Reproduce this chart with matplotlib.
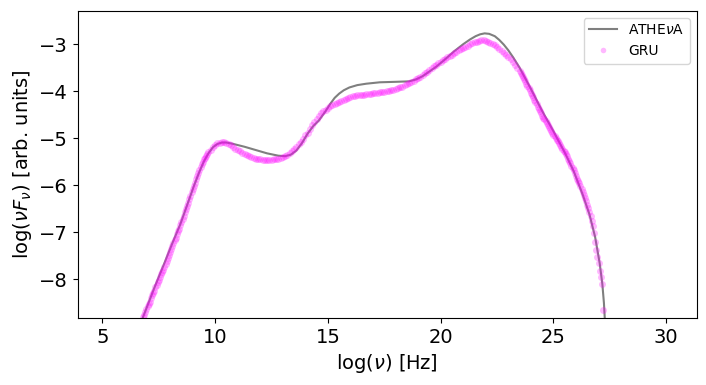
import matplotlib as mpl
mpl.use('Agg')
import matplotlib.pyplot as plt

# ATHEvA model curve
athena_x = [6.5, 6.8, 7.3, 7.7, 8.1, 8.45, 8.8, 9.05, 9.3, 9.5, 9.7, 9.9,
            10.1, 10.3, 10.5, 10.8, 11.3, 11.8, 12.3, 12.8, 13.1, 13.35,
            13.6, 13.85, 14.1, 14.35, 14.6, 14.9, 15.1, 15.3, 15.5, 15.7,
            15.95, 16.3, 16.7, 17.3, 18.0, 18.6, 18.9, 19.2, 19.5, 19.8,
            20.2, 20.6, 21.0, 21.3, 21.55, 21.75, 21.95, 22.15, 22.4, 22.6,
            22.8, 23.0, 23.2, 23.5, 24.0, 24.5, 25.0, 25.5, 25.9, 26.3,
            26.6, 26.85, 27.05, 27.17, 27.24, 27.28, 27.3]
athena_y = [-9.15, -8.80, -8.18, -7.71, -7.23, -6.83, -6.36, -6.02, -5.71,
            -5.49, -5.32, -5.19, -5.12, -5.09, -5.09, -5.12, -5.18, -5.25,
            -5.32, -5.37, -5.38, -5.35, -5.26, -5.10, -4.90, -4.74, -4.62,
            -4.42, -4.27, -4.14, -4.05, -3.98, -3.92, -3.87, -3.84, -3.81,
            -3.80, -3.79, -3.75, -3.68, -3.58, -3.48, -3.32, -3.15, -3.00,
            -2.90, -2.83, -2.79, -2.77, -2.78, -2.83, -2.91, -3.01, -3.13,
            -3.27, -3.50, -3.95, -4.42, -4.85, -5.30, -5.70, -6.20, -6.62,
            -7.10, -7.65, -8.10, -8.50, -8.85, -10.0]

# GRU prediction points
gru_x = [6.8, 6.9, 7.0, 7.1, 7.2, 7.3, 7.4, 7.5, 7.6, 7.7,
         7.8, 7.9, 8.0, 8.1, 8.2, 8.3, 8.4, 8.5, 8.6, 8.7,
         8.8, 8.9, 9.0, 9.1, 9.2, 9.3, 9.4, 9.5, 9.6, 9.7,
         9.8, 9.9, 10.0, 10.1, 10.2, 10.3, 10.4, 10.5, 10.6, 10.7,
         10.8, 10.9, 11.0, 11.1, 11.2, 11.3, 11.4, 11.5, 11.6, 11.7,
         11.8, 11.9, 12.0, 12.1, 12.2, 12.3, 12.4, 12.5, 12.6, 12.7,
         12.8, 12.9, 13.0, 13.1, 13.2, 13.3, 13.4, 13.5, 13.6, 13.7,
         13.8, 13.9, 14.0, 14.1, 14.2, 14.3, 14.4, 14.5, 14.6, 14.7,
         14.8, 14.9, 15.0, 15.1, 15.2, 15.3, 15.4, 15.5, 15.6, 15.7,
         15.8, 15.9, 16.0, 16.1, 16.2, 16.3, 16.4, 16.5, 16.6, 16.7,
         16.8, 16.9, 17.0, 17.1, 17.2, 17.3, 17.4, 17.5, 17.6, 17.7,
         17.8, 17.9, 18.0, 18.1, 18.2, 18.3, 18.4, 18.5, 18.6, 18.7,
         18.8, 18.9, 19.0, 19.1, 19.2, 19.3, 19.4, 19.5, 19.6, 19.7,
         19.8, 19.9, 20.0, 20.1, 20.2, 20.3, 20.4, 20.5, 20.6, 20.7,
         20.8, 20.9, 21.0, 21.1, 21.2, 21.3, 21.4, 21.5, 21.6, 21.7,
         21.8, 21.9, 22.0, 22.1, 22.2, 22.3, 22.4, 22.5, 22.6, 22.7,
         22.8, 22.9, 23.0, 23.1, 23.2, 23.3, 23.4, 23.5, 23.6, 23.7,
         23.8, 23.9, 24.0, 24.1, 24.2, 24.3, 24.4, 24.5, 24.6, 24.7,
         24.8, 24.9, 25.0, 25.1, 25.2, 25.3, 25.4, 25.5, 25.6, 25.7,
         25.8, 25.9, 26.0, 26.1, 26.2, 26.3, 26.4, 26.5, 26.6, 26.7,
         26.8, 26.9, 27.0, 27.1, 27.2]
gru_y = [-8.80, -8.69, -8.57, -8.47, -8.34, -8.24, -8.11, -8.02, -7.89, -7.79,
         -7.67, -7.55, -7.42, -7.30, -7.17, -7.04, -6.92, -6.78, -6.65, -6.50,
         -6.37, -6.22, -6.08, -5.94, -5.80, -5.67, -5.55, -5.45, -5.37, -5.30,
         -5.25, -5.18, -5.14, -5.11, -5.09, -5.08, -5.08, -5.10, -5.12, -5.15,
         -5.18, -5.22, -5.25, -5.28, -5.31, -5.34, -5.36, -5.38, -5.40, -5.41,
         -5.43, -5.44, -5.45, -5.46, -5.47, -5.47, -5.46, -5.46, -5.45, -5.44,
         -5.43, -5.41, -5.40, -5.38, -5.36, -5.32, -5.27, -5.23, -5.18, -5.13,
         -5.08, -5.01, -4.94, -4.88, -4.80, -4.72, -4.65, -4.58, -4.52, -4.47,
         -4.43, -4.39, -4.35, -4.32, -4.29, -4.27, -4.25, -4.22, -4.20, -4.18,
         -4.16, -4.14, -4.12, -4.11, -4.10, -4.09, -4.08, -4.07, -4.07, -4.06,
         -4.06, -4.05, -4.04, -4.04, -4.03, -4.02, -4.02, -4.01, -4.00, -3.99,
         -3.98, -3.97, -3.95, -3.94, -3.92, -3.90, -3.87, -3.85, -3.82, -3.80,
         -3.78, -3.75, -3.72, -3.69, -3.66, -3.62, -3.59, -3.55, -3.51, -3.47,
         -3.44, -3.40, -3.37, -3.34, -3.31, -3.28, -3.25, -3.22, -3.19, -3.16,
         -3.13, -3.11, -3.08, -3.05, -3.03, -3.00, -2.98, -2.96, -2.95, -2.93,
         -2.92, -2.92, -2.93, -2.95, -2.97, -2.99, -3.02, -3.06, -3.10, -3.14,
         -3.18, -3.22, -3.27, -3.32, -3.38, -3.44, -3.51, -3.58, -3.66, -3.75,
         -3.84, -3.93, -4.03, -4.13, -4.23, -4.33, -4.43, -4.52, -4.60, -4.68,
         -4.76, -4.85, -4.92, -4.99, -5.06, -5.15, -5.22, -5.30, -5.38, -5.48,
         -5.58, -5.68, -5.80, -5.91, -6.02, -6.14, -6.27, -6.41, -6.57, -6.76,
         -7.02, -7.38, -7.66, -7.95, -8.66]

# extra GRU points on the steep parts of the spectrum
gru_x_steep = [6.85, 6.95, 7.05, 7.15, 7.25, 7.35, 7.45, 7.55, 7.65, 7.75,
               7.85, 7.95, 8.05, 8.15, 8.25, 8.35, 8.45, 8.55, 8.65, 8.75,
               8.85, 8.95, 9.05, 9.15, 9.25, 9.35, 9.45, 9.55, 9.65,
               23.55, 23.65, 23.75, 23.85, 23.95, 24.05, 24.15, 24.25, 24.35,
               24.45, 24.55, 24.65, 24.75, 24.85, 24.95, 25.05, 25.15, 25.25,
               25.35, 25.45, 25.55, 25.65, 25.75, 25.85, 25.95, 26.05, 26.15,
               26.25, 26.35, 26.45, 26.55, 26.65, 26.75, 26.85, 26.95, 27.05,
               27.15]
gru_y_steep = [-8.75, -8.63, -8.52, -8.40, -8.29, -8.17, -8.06, -7.95, -7.84,
               -7.73, -7.61, -7.49, -7.36, -7.23, -7.11, -6.98, -6.85, -6.71,
               -6.57, -6.44, -6.29, -6.15, -6.01, -5.87, -5.73, -5.61, -5.50,
               -5.41, -5.33,
               -3.62, -3.70, -3.79, -3.88, -3.98, -4.08, -4.18, -4.28, -4.38,
               -4.47, -4.56, -4.64, -4.72, -4.80, -4.89, -4.95, -5.03, -5.10,
               -5.19, -5.26, -5.34, -5.43, -5.53, -5.63, -5.74, -5.86, -5.96,
               -6.08, -6.20, -6.34, -6.49, -6.66, -6.87, -7.20, -7.52, -7.82,
               -8.10]

fig = plt.figure(figsize=(7.06, 3.85), dpi=100)
ax = fig.add_axes([0.110, 0.174, 0.877, 0.798])

ax.plot(athena_x, athena_y, color='k', alpha=0.5, lw=1.5, label=r'ATHE$\nu$A')
ax.plot(gru_x + gru_x_steep, gru_y + gru_y_steep, 'o', color='magenta',
        alpha=0.28, ms=5, mew=0, label='GRU')

ax.set_xlim(3.9, 31.36)
ax.set_ylim(-8.82, -2.29)
ax.set_xticks([5, 10, 15, 20, 25, 30])
ax.set_yticks([-8, -7, -6, -5, -4, -3])
ax.tick_params(labelsize=14)
ax.set_xlabel(r'log($\nu$) [Hz]', fontsize=14)
ax.set_ylabel(r'log($\nu F_{\nu}$) [arb. units]', fontsize=14)
ax.legend(loc='upper right', fontsize=10, markerscale=0.8)

fig.savefig('out.png', dpi=100)
